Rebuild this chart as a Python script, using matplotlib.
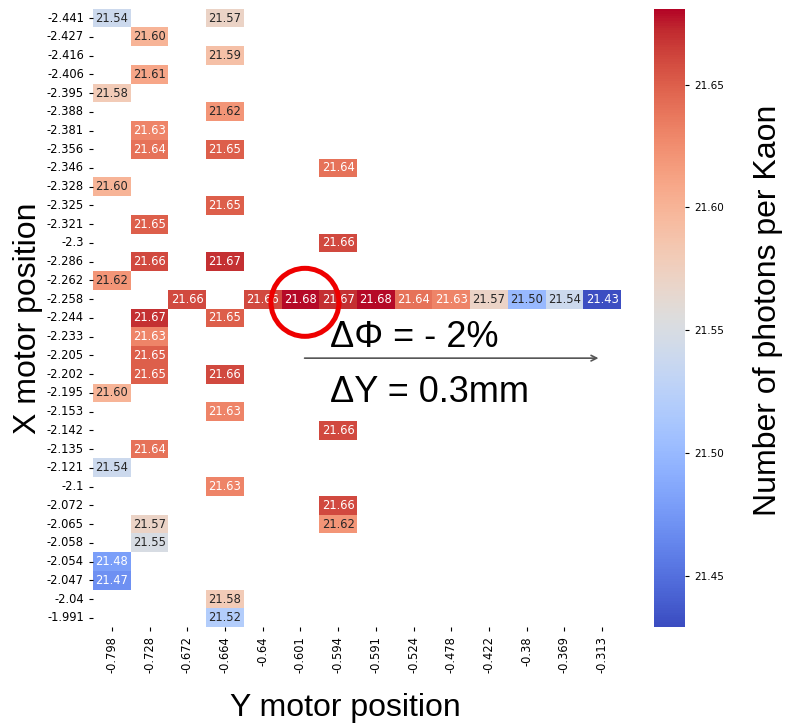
import matplotlib
matplotlib.use("Agg")
import matplotlib.pyplot as plt
import pandas as pd
import seaborn as sns
from matplotlib.patches import Ellipse

# row / column categories (motor positions)
x_motor = [-2.441, -2.427, -2.416, -2.406, -2.395, -2.388, -2.381, -2.356,
           -2.346, -2.328, -2.325, -2.321, -2.3, -2.286, -2.262, -2.258,
           -2.244, -2.233, -2.205, -2.202, -2.195, -2.153, -2.142, -2.135,
           -2.121, -2.1, -2.072, -2.065, -2.058, -2.054, -2.047, -2.04, -1.991]
y_motor = [-0.798, -0.728, -0.672, -0.664, -0.64, -0.601, -0.594, -0.591,
           -0.524, -0.478, -0.422, -0.38, -0.369, -0.313]

# measurements: X position, Y position, photons per kaon
meas_x = [-2.441, -2.441, -2.427, -2.416, -2.406, -2.395, -2.388, -2.381,
          -2.356, -2.356, -2.346, -2.328, -2.325, -2.321, -2.3, -2.286,
          -2.286, -2.262,
          -2.258, -2.258, -2.258, -2.258, -2.258, -2.258, -2.258, -2.258,
          -2.258, -2.258, -2.258,
          -2.244, -2.244, -2.233, -2.205, -2.202, -2.202, -2.195, -2.153,
          -2.142, -2.135, -2.121, -2.1, -2.072, -2.065, -2.065, -2.058,
          -2.054, -2.047, -2.04, -1.991]
meas_y = [-0.798, -0.664, -0.728, -0.664, -0.728, -0.798, -0.664, -0.728,
          -0.728, -0.664, -0.594, -0.798, -0.664, -0.728, -0.594, -0.728,
          -0.664, -0.798,
          -0.672, -0.64, -0.601, -0.594, -0.591, -0.524, -0.478, -0.422,
          -0.38, -0.369, -0.313,
          -0.728, -0.664, -0.728, -0.728, -0.728, -0.664, -0.798, -0.664,
          -0.594, -0.728, -0.798, -0.664, -0.594, -0.728, -0.594, -0.728,
          -0.798, -0.798, -0.664, -0.664]
photons = [21.54, 21.57, 21.60, 21.59, 21.61, 21.58, 21.62, 21.63,
           21.64, 21.65, 21.64, 21.60, 21.65, 21.65, 21.66, 21.66,
           21.67, 21.62,
           21.66, 21.66, 21.68, 21.67, 21.68, 21.64, 21.63, 21.57,
           21.50, 21.54, 21.43,
           21.67, 21.65, 21.63, 21.65, 21.65, 21.66, 21.60, 21.63,
           21.66, 21.64, 21.54, 21.63, 21.66, 21.57, 21.62, 21.55,
           21.48, 21.47, 21.58, 21.52]

df = pd.DataFrame({"x": meas_x, "y": meas_y, "n": photons})
grid = df.pivot_table(index="x", columns="y", values="n")
grid = grid.reindex(index=x_motor, columns=y_motor)

fig = plt.figure(figsize=(7.88, 7.25), dpi=100)
ax = fig.add_axes([0.118, 0.135, 0.670, 0.853])
cax = fig.add_axes([0.830, 0.135, 0.039, 0.853])

sns.heatmap(grid, ax=ax, cbar_ax=cax, cmap="coolwarm", vmin=21.429, vmax=21.681,
            annot=True, fmt=".2f", annot_kws={"size": 8.3},
            xticklabels=True, yticklabels=True)
ax.set_xlabel("")
ax.set_ylabel("")
ax.tick_params(labelsize=8.3, length=3)
plt.setp(ax.get_yticklabels(), rotation=0)
plt.setp(ax.get_xticklabels(), rotation=90)
cax.set_yticks([21.45, 21.50, 21.55, 21.60, 21.65])
cax.set_yticklabels(["21.45", "21.50", "21.55", "21.60", "21.65"])
cax.tick_params(labelsize=7.5, length=3)

big = dict(family="Liberation Sans", fontsize=23, color="black")
fig.text(0.0355, 0.561, "X motor position", rotation=90, ha="center", va="center", **big)
fig.text(0.438, 0.0234, "Y motor position", ha="center", va="center", **big)
fig.text(0.975, 0.572, "Number of photons per Kaon", rotation=90, ha="center", va="center", **big)

# overlay annotations
fig.patches.append(Ellipse((0.387, 0.583), 0.0863, 0.0938, transform=fig.transFigure,
                           fill=False, edgecolor="#ee0000", linewidth=3.6, zorder=10))
ax.annotate("", xy=(0.763, 0.506), xytext=(0.383, 0.506),
            xycoords="figure fraction", textcoords="figure fraction",
            arrowprops=dict(arrowstyle="->", color="#555555", lw=1.2))
fig.text(0.419, 0.534, "ΔΦ = - 2%", ha="left", va="center",
         family="Liberation Sans", fontsize=26)
fig.text(0.419, 0.459, "ΔY = 0.3mm", ha="left", va="center",
         family="Liberation Sans", fontsize=26)

fig.savefig("out.png", dpi=100)
